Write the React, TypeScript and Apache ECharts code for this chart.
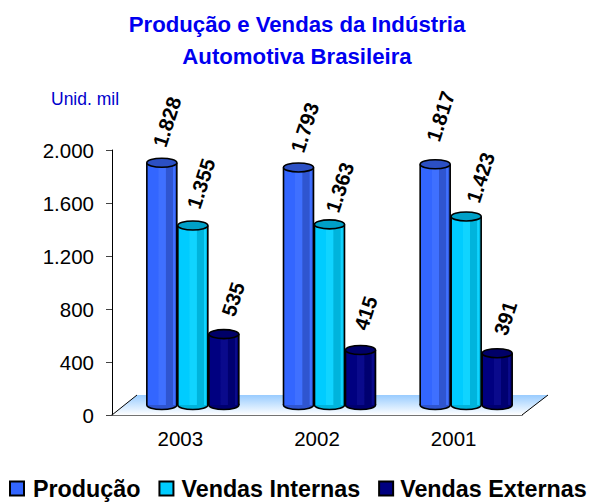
import React, { useEffect, useRef } from "react";
import * as echarts from "echarts";

const years = ["2003", "2002", "2001"];
const producao = [1828, 1793, 1817];
const internas = [1355, 1363, 1423];
const externas = [535, 415, 391];
const seriesNames = ["Produção", "Vendas Internas", "Vendas Externas"];
const yTicks = { min: 0, max: 2000, interval: 400 };

const fmt = (v: number) => String(v).replace(/\B(?=(\d{3})+$)/, ".");
const FONT = "'Liberation Sans', Arial, sans-serif";

const palettes = [
  { base: "#3366ff", light: "#3f70ff", dark: "#2f55d0", top: "#2c50c4" },
  { base: "#00ccff", light: "#10d4ff", dark: "#00b4dc", top: "#00a0c8" },
  { base: "#000080", light: "#0a0a8c", dark: "#000070", top: "#000068" },
];

// label nudges from each bar's top, per series then per category
const labelNudge = [
  [[5, -41], [6, -40], [5, -48]],
  [[8, -42], [10, -37], [14, -39]],
  [[9, -35], [5, -37], [8, -35]],
];

const BAR_W = 31;
const RY = 4.5;
const SHIFT_X = 12.5;
const SHIFT_Y = -10;

function cylinder(seriesIndex: number, values: number[]) {
  const p = palettes[seriesIndex];
  return (params: any, api: any) => {
    const i = api.value(0);
    const v = api.value(1);
    const base = api.coord([i, 0]);
    const top = api.coord([i, v]);
    const cx = base[0] + SHIFT_X + (seriesIndex - 1) * BAR_W;
    const yb = base[1] + SHIFT_Y;
    const yt = top[1] + SHIFT_Y;
    const rx = BAR_W / 2 - 0.5;
    const grad = new echarts.graphic.LinearGradient(0, 0, 1, 0, [
      { offset: 0, color: p.base },
      { offset: 0.38, color: p.base },
      { offset: 0.4, color: p.light },
      { offset: 0.62, color: p.light },
      { offset: 0.64, color: p.dark },
      { offset: 0.86, color: p.dark },
      { offset: 0.88, color: p.light },
      { offset: 0.93, color: p.light },
      { offset: 0.95, color: p.dark },
      { offset: 1, color: p.dark },
    ]);
    const [dx, dy] = labelNudge[seriesIndex][i];
    return {
      type: "group",
      children: [
        {
          type: "ellipse",
          shape: { cx, cy: yb, rx, ry: RY },
          style: { fill: p.dark, stroke: "#000", lineWidth: 1.6 },
        },
        {
          type: "rect",
          shape: { x: cx - rx, y: yt, width: rx * 2, height: yb - yt },
          style: { fill: grad },
        },
        { type: "line", shape: { x1: cx - rx, y1: yt, x2: cx - rx, y2: yb }, style: { stroke: "#000", lineWidth: 1.6 } },
        { type: "line", shape: { x1: cx + rx, y1: yt, x2: cx + rx, y2: yb }, style: { stroke: "#000", lineWidth: 1.6 } },
        {
          type: "ellipse",
          shape: { cx, cy: yt, rx, ry: RY },
          style: { fill: p.top, stroke: "#000", lineWidth: 1.6 },
        },
        {
          type: "text",
          x: cx + dx,
          y: yt + dy,
          rotation: (72 * Math.PI) / 180,
          style: {
            text: fmt(values[i]),
            fill: "#000",
            font: `bold 20.5px ${FONT}`,
            align: "center",
            verticalAlign: "middle",
          },
        },
      ],
    };
  };
}

export default function App() {
  const ref = useRef<HTMLDivElement>(null);
  useEffect(() => {
    const chart = echarts.init(ref.current!, undefined, { renderer: "svg" });
    const all = [producao, internas, externas];
    chart.setOption({
      animation: false,
      backgroundColor: "#fff",
      title: [
        {
          text: "Produção e Vendas da Indústria\nAutomotiva Brasileira",
          left: 292,
          top: 3,
          textAlign: "center",
          textStyle: { color: "#0000f0", fontFamily: FONT, fontWeight: "bold", fontSize: 22.2, lineHeight: 32 },
        },
        {
          text: "Unid. mil",
          left: 46,
          top: 85,
          textStyle: { color: "#0000cc", fontFamily: FONT, fontWeight: "normal", fontSize: 17.5 },
        },
      ],
      legend: {
        left: 9,
        top: 477,
        padding: 0,
        icon: "rect",
        itemWidth: 14,
        itemHeight: 14,
        itemGap: 18,
        selectedMode: false,
        textStyle: { color: "#000", fontFamily: FONT, fontWeight: "bold", fontSize: 23.3 },
        data: [
          { name: seriesNames[0], textStyle: { padding: [0, 0, 0, 4] } },
          { name: seriesNames[1], textStyle: { padding: [0, 5, 0, 3] } },
          { name: seriesNames[2], textStyle: { padding: [0, 0, 0, 2] } },
        ],
      },
      grid: { left: 112, right: 69, top: 150, height: 265 },
      xAxis: {
        type: "category",
        data: years,
        boundaryGap: true,
        axisLine: { lineStyle: { color: "#444", width: 1.5 } },
        axisTick: { length: 6, lineStyle: { color: "#444" }, alignWithLabel: false },
        axisLabel: { color: "#000", fontFamily: FONT, fontSize: 20.5, margin: 13 },
      },
      yAxis: {
        type: "value",
        min: yTicks.min,
        max: yTicks.max,
        interval: yTicks.interval,
        splitLine: { show: false },
        axisLine: { show: true, lineStyle: { color: "#000", width: 1 } },
        axisTick: { show: true, length: 6, lineStyle: { color: "#444" } },
        axisLabel: {
          color: "#000",
          fontFamily: FONT,
          fontSize: 20.5,
          margin: 18,
          formatter: (v: number) => fmt(v),
        },
      },
      graphic: [
        {
          type: "polygon",
          z: 1,
          shape: { points: [[112, 415], [137, 395], [548, 395], [522, 415]] },
          style: {
            fill: new echarts.graphic.LinearGradient(0, 0, 0, 1, [
              { offset: 0, color: "#99ccff" },
              { offset: 1, color: "#ffffff" },
            ]),
          },
        },
        { type: "line", z: 1, shape: { x1: 112, y1: 415, x2: 137, y2: 395 }, style: { stroke: "#000", lineWidth: 1 } },
        { type: "line", z: 1, shape: { x1: 522, y1: 415, x2: 548, y2: 395 }, style: { stroke: "#000", lineWidth: 1 } },
      ],
      series: seriesNames.map((name, s) => ({
        name,
        type: "custom",
        z: 5,
        clip: false,
        itemStyle: { color: palettes[s].base, borderColor: "#000", borderWidth: 2 },
        encode: { x: 0, y: 1 },
        data: all[s].map((v, i) => [i, v]),
        renderItem: cylinder(s, all[s]),
      })),
    });
    return () => chart.dispose();
  }, []);
  return <div ref={ref} style={{ width: 591, height: 502, position: "absolute", left: 0, top: 0 }} />;
}
